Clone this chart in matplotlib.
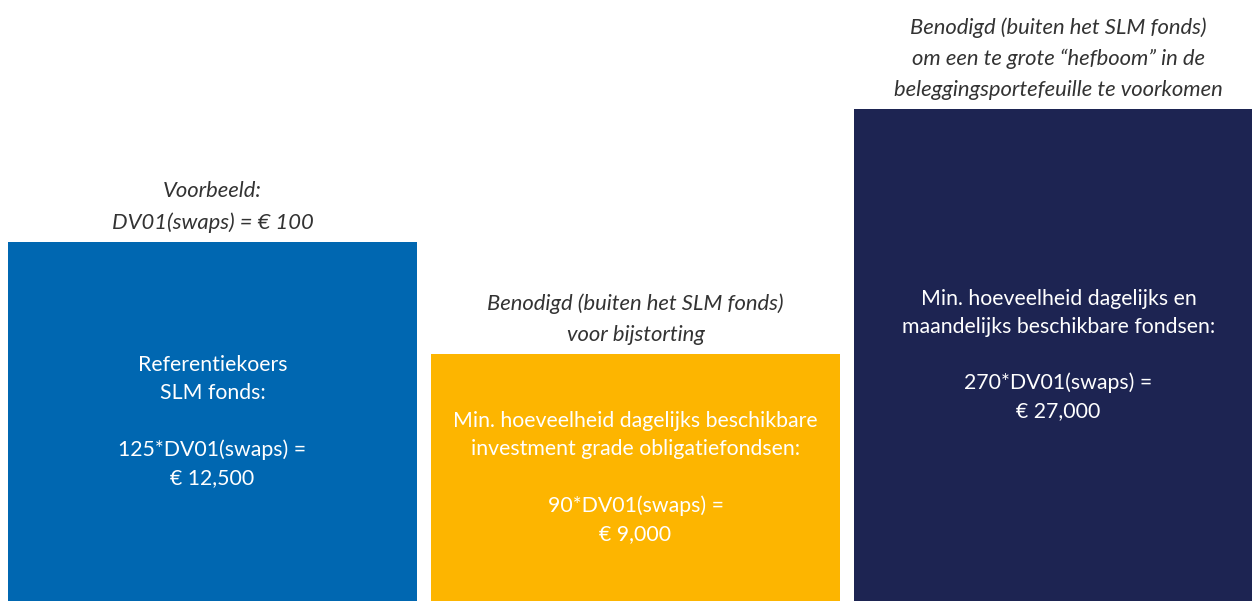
import matplotlib
matplotlib.use("Agg")
import matplotlib.pyplot as plt

# Data (bar heights, in relative units)
categories = ["Referentiekoers SLM fonds", "Bijstorting", "Hefboom"]
multipliers = [125, 90, 270]
amounts = ["€ 12,500", "€ 9,000", "€ 27,000"]
bar_heights = [359, 247, 492]
colors = ["#0067B1", "#FDB500", "#1D2452"]

top_labels = [
    "Voorbeeld:\nDV01(swaps) = € 100",
    "Benodigd (buiten het SLM fonds)\nvoor bijstorting",
    "Benodigd (buiten het SLM fonds)\nom een te grote \u201chefboom\u201d in de\nbeleggingsportefeuille te voorkomen",
]
inner_heads = [
    "Referentiekoers\nSLM fonds:",
    "Min. hoeveelheid dagelijks beschikbare\ninvestment grade obligatiefondsen:",
    "Min. hoeveelheid dagelijks en\nmaandelijks beschikbare fondsen:",
]

plt.rcParams['font.family'] = ['Lato', 'DejaVu Sans']

fig = plt.figure(figsize=(12.52, 6.01), dpi=100)
ax = fig.add_axes([0, 0, 1, 1])
x = list(range(len(categories)))
ax.bar(x, bar_heights, width=0.967, color=colors, linewidth=0)

for xi, h, top, head, m, amt in zip(x, bar_heights, top_labels, inner_heads, multipliers, amounts):
    ax.text(xi, h + 9, top, ha="center", va="bottom", fontsize=15.8, style="italic",
            color="#333333", linespacing=1.68)
    inner = f"{head}\n\n{m}*DV01(swaps) =\n{amt}"
    ax.text(xi, h / 2, inner, ha="center", va="center", fontsize=15.3, color="white",
            linespacing=1.5)

ax.set_xlim(-0.5024, 2.4574)
ax.set_ylim(0, 601)
ax.axis("off")
fig.savefig("out.png", dpi=100)
